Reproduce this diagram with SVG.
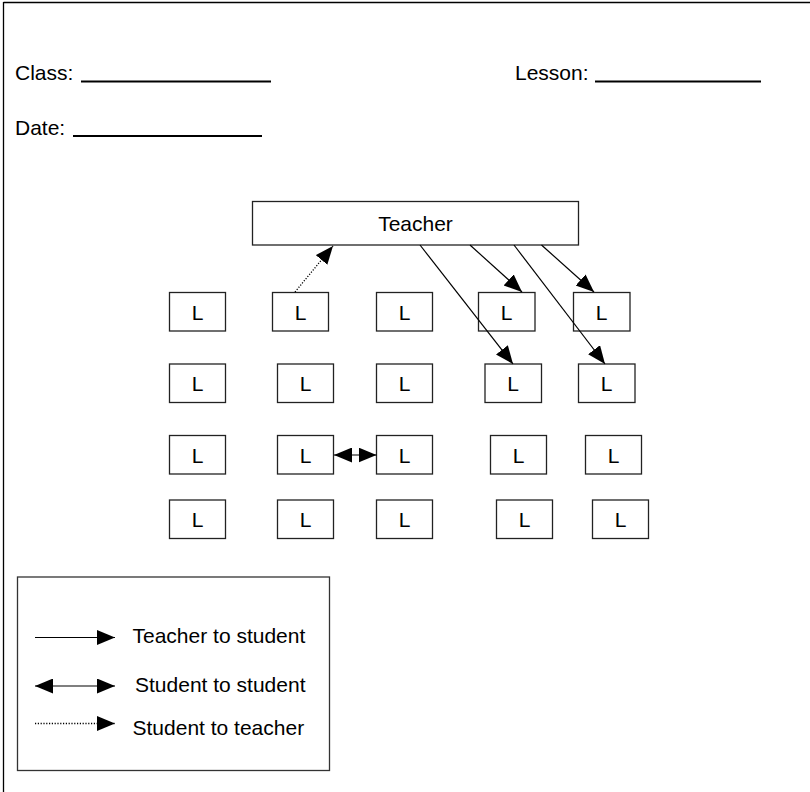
<svg xmlns="http://www.w3.org/2000/svg" width="810" height="792" viewBox="0 0 810 792">
<style>
text { font-family: "Liberation Sans", Arial, Helvetica, sans-serif; font-size: 21px; fill: #000; }
.box { fill: #fff; stroke: #222; stroke-width: 1.3; }
.lbl { text-anchor: middle; }
.ul { stroke: #000; stroke-width: 2; }
.con { stroke: #000; stroke-width: 1.2; fill: none; }
.dot { stroke-dasharray: 1.2 1.6; stroke-width: 1.3; }
</style>
<defs>
<marker id="ah" markerUnits="userSpaceOnUse" markerWidth="19" markerHeight="16" refX="18" refY="7.5" orient="auto">
<path d="M0,0 L18,7.5 L0,15 z" fill="#000"/>
</marker>
<marker id="ahs" markerUnits="userSpaceOnUse" markerWidth="19" markerHeight="16" refX="0" refY="7.5" orient="auto">
<path d="M18,0 L0,7.5 L18,15 z" fill="#000"/>
</marker>
</defs>
<rect width="810" height="792" fill="#fff"/>
<g id="page-border">
<line x1="3.5" y1="2.5" x2="810" y2="2.5" stroke="#000" stroke-width="1.3"/>
<line x1="3.5" y1="2" x2="3.5" y2="792" stroke="#000" stroke-width="1.3"/>
</g>
<g id="header">
<text x="15" y="80">Class:</text>
<line class="ul" x1="81" y1="81.5" x2="271" y2="81.5"/>
<text x="515" y="80">Lesson:</text>
<line class="ul" x1="595" y1="81.5" x2="761" y2="81.5"/>
<text x="15" y="135">Date:</text>
<line class="ul" x1="73" y1="136" x2="262" y2="136"/>
</g>
<g id="teacher">
<rect class="box" x="252.5" y="201.5" width="326" height="43.5"/>
<text class="lbl" x="415.5" y="231">Teacher</text>
</g>
<g id="r1c1"><rect class="box" x="169.5" y="292.5" width="56" height="38.5"/><text class="lbl" x="197.5" y="319.5">L</text></g>
<g id="r1c2"><rect class="box" x="272.5" y="292.5" width="56" height="38.5"/><text class="lbl" x="300.5" y="319.5">L</text></g>
<g id="r1c3"><rect class="box" x="376.5" y="292.5" width="56" height="38.5"/><text class="lbl" x="404.5" y="319.5">L</text></g>
<g id="r1c4"><rect class="box" x="478.5" y="292.5" width="56.5" height="38.5"/><text class="lbl" x="506.5" y="319.5">L</text></g>
<g id="r1c5"><rect class="box" x="573.5" y="292.5" width="56.5" height="38.5"/><text class="lbl" x="601.5" y="319.5">L</text></g>
<g id="r2c1"><rect class="box" x="169.5" y="364" width="56" height="38.5"/><text class="lbl" x="197.5" y="391">L</text></g>
<g id="r2c2"><rect class="box" x="277.5" y="364" width="56" height="38.5"/><text class="lbl" x="305.5" y="391">L</text></g>
<g id="r2c3"><rect class="box" x="376.5" y="364" width="56" height="38.5"/><text class="lbl" x="404.5" y="391">L</text></g>
<g id="r2c4"><rect class="box" x="485" y="364" width="56.5" height="38.5"/><text class="lbl" x="513" y="391">L</text></g>
<g id="r2c5"><rect class="box" x="578.5" y="364" width="56.5" height="38.5"/><text class="lbl" x="606.5" y="391">L</text></g>
<g id="r3c1"><rect class="box" x="169.5" y="435.5" width="56" height="38.5"/><text class="lbl" x="197.5" y="462.5">L</text></g>
<g id="r3c2"><rect class="box" x="277.5" y="435.5" width="56" height="38.5"/><text class="lbl" x="305.5" y="462.5">L</text></g>
<g id="r3c3"><rect class="box" x="376.5" y="435.5" width="56" height="38.5"/><text class="lbl" x="404.5" y="462.5">L</text></g>
<g id="r3c4"><rect class="box" x="490.5" y="435.5" width="56" height="38.5"/><text class="lbl" x="518.5" y="462.5">L</text></g>
<g id="r3c5"><rect class="box" x="585.5" y="435.5" width="56" height="38.5"/><text class="lbl" x="613.5" y="462.5">L</text></g>
<g id="r4c1"><rect class="box" x="169.5" y="500" width="56" height="38.5"/><text class="lbl" x="197.5" y="527">L</text></g>
<g id="r4c2"><rect class="box" x="277.5" y="500" width="56" height="38.5"/><text class="lbl" x="305.5" y="527">L</text></g>
<g id="r4c3"><rect class="box" x="376.5" y="500" width="56" height="38.5"/><text class="lbl" x="404.5" y="527">L</text></g>
<g id="r4c4"><rect class="box" x="496.5" y="500" width="56" height="38.5"/><text class="lbl" x="524.5" y="527">L</text></g>
<g id="r4c5"><rect class="box" x="592.5" y="500" width="56" height="38.5"/><text class="lbl" x="620.5" y="527">L</text></g>
<g id="connectors">
<line class="con dot" x1="295" y1="292" x2="333" y2="246" marker-end="url(#ah)"/>
<line class="con" x1="420" y1="245" x2="513" y2="364" marker-end="url(#ah)"/>
<line class="con" x1="470" y1="245" x2="522" y2="292" marker-end="url(#ah)"/>
<line class="con" x1="514" y1="245" x2="605" y2="364" marker-end="url(#ah)"/>
<line class="con" x1="541.5" y1="245" x2="594" y2="292" marker-end="url(#ah)"/>
<line class="con" x1="334" y1="455" x2="376.5" y2="455" marker-start="url(#ahs)" marker-end="url(#ah)"/>
</g>
<g id="legend">
<rect x="17.5" y="577" width="312" height="193.5" fill="#fff" stroke="#333" stroke-width="1.3"/>
<line class="con" x1="35" y1="637.5" x2="115" y2="637.5" marker-end="url(#ah)"/>
<text x="132.5" y="643">Teacher to student</text>
<line class="con" x1="35" y1="686" x2="115" y2="686" marker-start="url(#ahs)" marker-end="url(#ah)"/>
<text x="135" y="692">Student to student</text>
<line class="con dot" x1="35" y1="723.5" x2="115" y2="723.5" marker-end="url(#ah)"/>
<text x="132.5" y="735">Student to teacher</text>
</g>
</svg>
